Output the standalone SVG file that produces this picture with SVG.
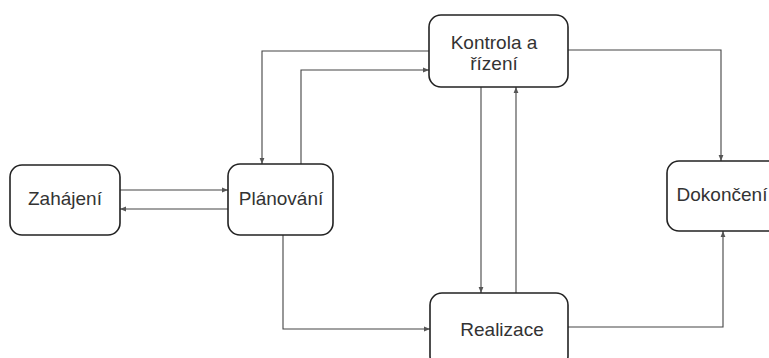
<svg xmlns="http://www.w3.org/2000/svg" width="769" height="358" viewBox="0 0 769 358">
<style>
.box{fill:#fff;stroke:#222;stroke-width:1.6}
.lbl{font-family:"Liberation Sans",Arial,sans-serif;font-size:19px;fill:#333;text-anchor:middle}
.c{fill:none;stroke:#444;stroke-width:1.1;marker-end:url(#ah)}
</style>
<defs>
<marker id="ah" viewBox="0 0 10 10" refX="10" refY="5" markerWidth="7" markerHeight="6" markerUnits="userSpaceOnUse" orient="auto">
<path d="M0,1 L10,5 L0,9 Z" fill="#555"/>
</marker>
</defs>
<rect width="769" height="358" fill="#fff"/>
<g id="connectors">
<path class="c" d="M120,190 H228"/>
<path class="c" d="M228,209 H120"/>
<path class="c" d="M429,51 H262 V164"/>
<path class="c" d="M301,164 V70 H429"/>
<path class="c" d="M481,87 V293"/>
<path class="c" d="M516,293 V87"/>
<path class="c" d="M567,50 H721 V161"/>
<path class="c" d="M283,235 V329 H430"/>
<path class="c" d="M568,327 H723 V231"/>
</g>
<g id="zahajeni">
<rect class="box" x="10" y="165" width="110" height="70" rx="12"/>
<text class="lbl" x="65" y="205">Zahájení</text>
</g>
<g id="planovani">
<rect class="box" x="228" y="164" width="105" height="71" rx="12"/>
<text class="lbl" x="281" y="205">Plánování</text>
</g>
<g id="kontrola">
<rect class="box" x="429" y="15" width="139" height="72" rx="12"/>
<text class="lbl" x="494" y="49">Kontrola a</text>
<text class="lbl" x="494" y="70">řízení</text>
</g>
<g id="realizace">
<rect class="box" x="430" y="293" width="138" height="75" rx="12"/>
<text class="lbl" x="502" y="336">Realizace</text>
</g>
<g id="dokonceni">
<rect class="box" x="667" y="161" width="115" height="70" rx="12"/>
<text class="lbl" x="722" y="201">Dokončení</text>
</g>
</svg>
